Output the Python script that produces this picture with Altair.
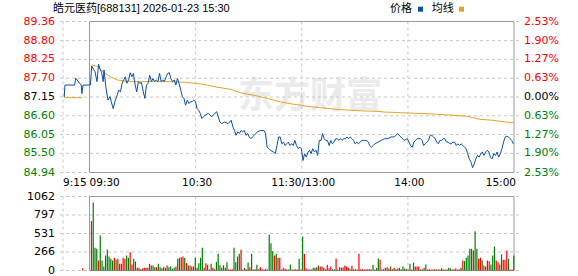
import altair as alt
import pandas as pd

# ---------------- data ----------------
price_ticks = [89.36, 88.80, 88.25, 87.70, 87.15, 86.60, 86.05, 85.50, 84.94]
pct_labels = ["2.53%", "1.90%", "1.27%", "0.63%", "0.00%", "0.63%", "1.27%", "1.90%", "2.53%"]
prev_close = 87.15
vol_ticks = [1062, 797, 531, 266, 0]
time_ticks = [0, 15, 75, 135, 195, 255]          # minutes from 9:15 (lunch collapsed)
time_labels = ["9:15", "09:30", "10:30", "11:30/13:00", "14:00", "15:00"]
grid_times = [0, 75, 135, 195]

title_text = "皓元医药[688131] 2026-01-23 15:30"
legend_labels = ["价格", "均线"]
watermark = "东方财富"

# price line: time index (minutes from 9:15) and price
price_t = [0.7, 1.1, 6.6, 7.2, 9.4, 10.3, 10.7, 11.3, 15.5,
           16.2, 17.3, 18.1, 19.2, 20.1, 21.0, 21.9, 22.7, 23.2, 24.2, 25.4, 26.6, 27.3, 28.4, 29.3,
           30.6, 31.5, 32.5, 33.4, 34.3, 35.2, 36.1, 37.1, 38.0, 38.9, 39.8, 40.8, 41.7, 42.6, 43.5,
           44.4, 45.4, 46.3, 47.2, 48.1, 49.0, 50.0, 50.9, 51.8, 52.7, 53.7, 54.6, 55.5, 56.4, 57.3,
           58.3, 59.2, 60.1, 61.0, 62.0, 62.9, 63.8, 64.7, 65.6, 66.6, 67.5, 68.4, 69.3, 70.3, 71.2,
           72.1, 73.0, 73.9, 74.9, 75.8, 76.7, 77.6, 78.5,
           80.4, 82.2, 84.1, 85.9, 86.9, 87.8, 88.7, 89.6, 91.5, 93.3, 95.1, 96.1, 97.0, 97.9, 98.8,
           99.8, 100.7, 101.6, 102.5, 103.4, 104.4, 105.3, 106.2, 107.1, 108.1, 109.0, 109.9, 111.7,
           113.6, 114.5, 115.4, 116.4, 117.3, 119.1, 120.0, 121.0, 121.9, 122.8, 123.7, 124.7, 125.6,
           126.5, 127.4, 128.3, 129.3, 130.2, 131.1, 132.0, 133.0, 133.9, 134.8,
           135.7, 136.6, 137.6, 138.5, 139.4, 140.3, 141.2, 142.2, 143.1, 144.0, 144.9, 145.9, 146.8,
           147.7, 148.6, 149.5, 150.5, 151.4, 152.3, 153.2, 154.2, 155.1, 156.0, 156.9, 157.8, 158.8,
           159.7, 160.6, 161.5, 162.4, 163.4, 164.3, 165.2, 166.1, 167.1, 168.0, 168.9, 169.8, 170.7,
           171.7, 172.6, 173.5, 174.4, 175.4, 176.3, 178.1,
           180.0, 181.8, 183.6, 185.5, 187.3, 189.2, 191.0, 192.9, 194.7, 196.5, 197.5, 198.4, 200.2,
           202.1, 203.0, 203.9, 204.8, 205.8, 206.7, 207.6, 208.5, 209.5, 210.4, 211.3, 212.2, 213.1,
           214.1, 215.0, 215.9, 216.8, 217.8, 218.7, 219.6, 220.5, 221.4, 222.4, 223.3, 224.2, 225.1,
           226.1, 227.0, 227.9, 228.8, 229.7, 230.7, 231.6, 232.5, 233.4, 234.4, 235.3, 236.2, 237.1,
           238.0, 239.0, 239.9, 240.8, 241.7, 242.6, 243.6, 244.5, 245.4, 246.3, 247.3, 248.2, 249.1,
           250.0, 251.0, 251.9, 252.8, 253.7, 254.6]
price_v = [87.15, 87.50, 87.50, 87.70, 87.55, 87.50, 87.25, 87.50, 87.50,
           88.06, 87.96, 87.89, 87.60, 88.11, 87.96, 87.86, 87.60, 87.94, 87.45, 87.06, 87.16, 87.01, 86.81, 87.01,
           87.20, 87.35, 87.30, 87.55, 87.65, 87.74, 87.55, 87.65, 87.86, 87.74, 87.84, 87.50, 87.30, 87.60, 87.55,
           87.57, 87.30, 87.11, 87.50, 87.55, 87.79, 87.60, 87.69, 87.60, 87.65, 87.60, 87.84, 87.60, 87.65, 87.60,
           87.74, 87.84, 87.86, 87.69, 87.60, 87.65, 87.50, 87.69, 87.55, 87.35, 87.16, 87.11, 86.91, 87.06, 86.96,
           87.01, 87.01, 87.06, 87.01, 86.81, 86.76, 86.67, 86.52,
           86.62, 86.67, 86.57, 86.67, 86.72, 86.57, 86.42, 86.37, 86.42, 86.37, 86.47, 86.27, 86.17, 86.03, 86.13,
           86.08, 86.17, 86.13, 86.17, 86.03, 86.08, 85.98, 85.93, 85.98, 86.03, 86.08, 86.13, 86.17,
           86.17, 86.08, 85.68, 85.64, 85.59, 85.54, 85.49, 85.73, 85.98, 85.98, 85.78, 85.83, 85.73,
           85.78, 85.83, 85.73, 85.78, 85.73, 85.88, 85.73, 85.64, 85.68, 85.64,
           85.29, 85.49, 85.39, 85.54, 85.59, 85.49, 85.64, 85.54, 85.59, 85.44, 85.88, 85.88, 86.08,
           85.93, 85.88, 85.88, 85.73, 85.88, 85.78, 85.83, 85.93, 85.93, 85.88, 85.93, 85.88, 85.93,
           85.93, 85.98, 85.93, 85.98, 85.93, 85.88, 85.78, 85.83, 85.78, 85.83, 85.88, 85.88, 85.88,
           85.88, 85.83, 85.73, 85.68, 85.73, 85.78, 85.83,
           85.88, 85.93, 85.93, 85.98, 85.98, 86.08, 85.98, 85.88, 85.93, 85.73, 85.68, 85.83, 85.93,
           85.93, 85.88, 85.73, 85.78, 85.83, 85.88, 86.03, 86.03, 85.98, 85.93, 85.83, 85.78, 85.88,
           85.88, 85.93, 85.93, 85.83, 85.83, 85.78, 85.78, 85.83, 85.83, 85.73, 85.78, 85.73, 85.78,
           85.73, 85.68, 85.64, 85.49, 85.34, 85.24, 85.08, 85.19, 85.34, 85.44, 85.39, 85.49, 85.54,
           85.44, 85.54, 85.59, 85.54, 85.39, 85.34, 85.49, 85.44, 85.54, 85.39, 85.49, 85.64, 85.83,
           85.98, 86.00, 85.98, 85.93, 85.88, 85.78]

# average line
avg_t = [16.2, 19.5, 23.2, 26.9, 30.6, 34.3, 41.7, 60.1, 69.3, 78.5, 85.9, 95.1, 100.7, 108.1,
         115.4, 122.8, 130.2, 134.8, 137.6, 144.9, 154.2, 163.4, 170.7, 178.1, 181.8, 191.0,
         200.2, 209.5, 218.7, 227.9, 231.6, 235.3, 242.6, 250.0, 254.6]
avg_v = [88.09, 88.04, 87.86, 87.74, 87.65, 87.62, 87.60, 87.60, 87.58, 87.53, 87.45, 87.37, 87.27, 87.20,
         87.11, 87.01, 86.94, 86.91, 86.88, 86.84, 86.79, 86.76, 86.74, 86.73, 86.71, 86.69,
         86.67, 86.65, 86.62, 86.59, 86.55, 86.50, 86.47, 86.42, 86.40]
pre_avg_t = [0.7, 10.7]
pre_avg_v = [87.13, 87.13]

# volume (lots), one per minute 9:30..11:30 (121), 13:01..15:00 (120)
vol_v = [708, 976, 325, 311, 143, 502, 143, 57, 215, 301, 201, 167, 143, 182, 153, 167, 96, 96, 182, 167,
         215, 182, 263, 86, 167, 129, 38, 38, 19, 29, 38, 38, 38, 96, 72, 72, 48, 48, 96, 48,
         33, 48, 38, 72, 48, 57, 24, 38, 57, 167, 182, 191, 201, 182, 105, 72, 72, 57, 57, 182,
         38, 105, 182, 325, 38, 105, 81, 14, 96, 38, 19, 124, 239, 76, 38, 76, 38, 120, 19, 14,
         19, 325, 120, 201, 239, 296, 14, 38, 19, 115, 48, 239, 14, 19, 81, 19, 48, 14, 14, 24,
         14, 517, 392, 277, 215, 239, 182, 182, 14, 38, 24, 19, 14, 86, 14, 14, 19, 14, 167, 14, 488,
         239, 29, 14, 14, 14, 38, 38, 48, 72, 57, 57, 38, 19, 81, 33, 57, 19, 19, 172, 14,
         48, 38, 48, 72, 57, 38, 14, 67, 19, 19, 14, 239, 19, 19, 14, 19, 19, 19, 14, 81,
         14, 38, 172, 153, 14, 19, 38, 48, 29, 57, 19, 38, 19, 29, 38, 19, 57, 29, 19, 14,
         96, 14, 115, 57, 57, 57, 14, 19, 38, 86, 14, 19, 14, 14, 19, 14, 19, 14, 33, 14,
         14, 14, 38, 29, 14, 19, 29, 14, 19, 38, 143, 134, 182, 215, 311, 311, 287, 565, 311, 167,
         182, 143, 72, 57, 143, 134, 86, 215, 344, 143, 120, 86, 230, 153, 153, 287, 167, 14, 14, 215]
# bar colour per minute: r = up (red), g = down (green)
vol_c = list("rgggrggggggggrgrrrrr" "ggrrggrrgrrrgrrggrgg" "rggrggggrggrrgrgrrrg"
             "ggggrrrggrrggggrggrr" "rggrgrrgrgrgrggrrrrr" "ggggrgrrgrrrg" "grrrggrg"
             "rrrrrggrgrrrgrrrggrg" "rgrrrrgrgrrrrrrrgrrg" "rggrgrgrrgrrggrgggrg"
             "grgrrrggrgrrrgrgrrgr" "rgggrrrgrgrgggggrggr" "rgrrrrgggrrggrrrgrrg")

pre_vol_t = [11.2]
pre_vol_v = [33]

# ---------------- layout ----------------
W, H = 461, 249      # plot area (9:15 .. 15:00, price top .. volume bottom)
PH = 151             # price pane height
VT = 175             # volume pane top
pmax, pmin = price_ticks[0], price_ticks[-1]
p_lo = pmax - (pmax - pmin) * H / PH
v_hi = vol_ticks[0] * H / (H - VT)

BLUE = "#0c4fa2"
GOLD = "#e2a526"
GRID = "#c8c8c8"
BORDER = "#9a9a9a"
NUM_FONT = "DejaVu Sans"
CJK = "Liberation Sans, Noto Sans CJK SC"

xs = alt.Scale(domain=[0, 255], nice=False, zero=False)
ps = alt.Scale(domain=[p_lo, pmax], nice=False, zero=False)
vs = alt.Scale(domain=[0, v_hi], nice=False, zero=False)
dir_scale = alt.Scale(domain=["up", "flat", "down"], range=["#ff0000", "#000000", "#008000"])


def direction(p):
    if abs(p - prev_close) < 1e-9:
        return "flat"
    return "up" if p > prev_close else "down"


X = lambda f: alt.X(f, scale=xs, axis=None)
PY = lambda f: alt.Y(f, scale=ps, axis=None)
VY = lambda f: alt.Y(f, scale=vs, axis=None)
COL = alt.Color("dir:N", scale=dir_scale, legend=None)

ticks_df = pd.DataFrame({"p": price_ticks, "pct": pct_labels})
ticks_df["lbl"] = [f"{p:.2f}" for p in price_ticks]
ticks_df["dir"] = [direction(p) for p in price_ticks]

vol_c = (vol_c + ["g"] * len(vol_v))[:len(vol_v)]
vol_df = pd.DataFrame({
    "t": [16.1 + k * 0.995 for k in range(len(vol_v))] + pre_vol_t,
    "v": vol_v + pre_vol_v,
    "dir": ["up" if c == "r" else "down" for c in vol_c] + ["up"],
})

price_df = pd.DataFrame({"t": price_t, "p": price_v})
avg_df = pd.DataFrame({"t": pre_avg_t + avg_t, "p": pre_avg_v + avg_v,
                       "seg": ["pre"] * len(pre_avg_t) + ["main"] * len(avg_t)})
vgrid_df = pd.DataFrame({"t": grid_times})
border_p = pd.DataFrame({"a": [15], "b": [255], "y1": [pmax], "y2": [pmin]})
border_v = pd.DataFrame({"a": [15], "b": [255], "y1": [vol_ticks[0]], "y2": [0]})
vt_df = pd.DataFrame({"v": vol_ticks, "lbl": [str(v) for v in vol_ticks]})

n = len(time_ticks)
time_df = pd.DataFrame({"t": time_ticks, "lbl": time_labels,
                        "al": ["left", "left"] + ["center"] * (n - 3) + ["right"]})

# ---------------- price pane ----------------
wm = alt.Chart(pd.DataFrame({"s": [watermark]})).mark_text(
    font="Noto Sans CJK SC", fontSize=36, fontWeight="bold", color="#ebebeb",
    align="center", baseline="middle").encode(x=alt.value(252), y=alt.value(75), text="s:N")

hgrid = alt.Chart(ticks_df).mark_rule(color=GRID, strokeDash=[3, 3], strokeWidth=1).encode(y=PY("p:Q"))
vgrid_p = alt.Chart(vgrid_df).mark_rule(color=GRID, strokeDash=[3, 3], strokeWidth=1).encode(
    x=X("t:Q"), y=alt.value(0), y2=alt.value(PH))
box_p = alt.Chart(border_p).mark_rect(fillOpacity=0, stroke=BORDER, strokeWidth=1).encode(
    x=X("a:Q"), x2="b:Q", y=PY("y1:Q"), y2="y2:Q")
line_p = alt.Chart(price_df).mark_line(color=BLUE, strokeWidth=1).encode(x=X("t:Q"), y=PY("p:Q"))
line_a = alt.Chart(avg_df).mark_line(color=GOLD, strokeWidth=1).encode(
    x=X("t:Q"), y=PY("p:Q"), detail="seg:N")
lbl_l = alt.Chart(ticks_df).mark_text(align="right", baseline="middle", font=NUM_FONT, fontSize=11).encode(
    x=alt.value(-3), y=PY("p:Q"), text="lbl:N", color=COL)
lbl_r = alt.Chart(ticks_df).mark_text(align="left", baseline="middle", font=NUM_FONT, fontSize=11).encode(
    x=alt.value(W + 5), y=PY("p:Q"), text="pct:N", color=COL)

tl = []
for al, dx in [("left", 0), ("center", 1.5), ("right", 2)]:
    tl.append(alt.Chart(time_df).transform_filter(alt.datum.al == al).mark_text(
        align=al, baseline="middle", font=NUM_FONT, fontSize=10.5, color="#000000", dx=dx).encode(
        x=X("t:Q"), y=alt.value(PH + 10), text="lbl:N"))

title = alt.Chart(pd.DataFrame({"s": [title_text]})).mark_text(
    align="left", baseline="middle", font=CJK, fontSize=11, color="#000000").encode(
    x=alt.value(-5), y=alt.value(-12.5), text="s:N")
leg1 = alt.Chart(pd.DataFrame({"s": [legend_labels[0]]})).mark_text(
    align="left", baseline="middle", font=CJK, fontSize=11, color="#000000").encode(
    x=alt.value(332), y=alt.value(-12.5), text="s:N")
leg2 = alt.Chart(pd.DataFrame({"s": [legend_labels[1]]})).mark_text(
    align="left", baseline="middle", font=CJK, fontSize=11, color="#000000").encode(
    x=alt.value(373.7), y=alt.value(-12.5), text="s:N")
sq_blue = alt.Chart(pd.DataFrame({"s": [legend_labels[0]]})).mark_square(size=25, color=BLUE, opacity=1).encode(
    x=alt.value(362.5), y=alt.value(-12.3))
sq_gold = alt.Chart(pd.DataFrame({"s": [legend_labels[1]]})).mark_square(size=25, color=GOLD, opacity=1).encode(
    x=alt.value(403.5), y=alt.value(-12.3))

price_group = alt.layer(wm, hgrid, vgrid_p, box_p, line_a, line_p, lbl_l, lbl_r, *tl, title,
                        leg1, leg2, sq_blue, sq_gold)

# ---------------- volume pane ----------------
hgrid_v = alt.Chart(vt_df).mark_rule(color=GRID, strokeDash=[3, 3], strokeWidth=1).encode(y=VY("v:Q"))
vgrid_v = alt.Chart(vgrid_df).mark_rule(color=GRID, strokeDash=[3, 3], strokeWidth=1).encode(
    x=X("t:Q"), y=alt.value(VT), y2=alt.value(H))
box_v = alt.Chart(border_v).mark_rect(fillOpacity=0, stroke=BORDER, strokeWidth=1).encode(
    x=X("a:Q"), x2="b:Q", y=VY("y1:Q"), y2="y2:Q")
bars = alt.Chart(vol_df).mark_bar(size=1.2).encode(x=X("t:Q"), y=VY("v:Q"), color=COL)
lbl_v = alt.Chart(vt_df).mark_text(align="right", baseline="middle", font=NUM_FONT, fontSize=11,
                                   color="#000000").encode(x=alt.value(-3), y=VY("v:Q"), text="lbl:N")

vol_group = alt.layer(hgrid_v, vgrid_v, box_v, bars, lbl_v)

chart = alt.layer(price_group, vol_group).resolve_scale(y="independent").properties(
    width=W, height=H,
    padding={"left": 58, "top": 21.5, "right": 59, "bottom": 5.5},
    autosize=alt.AutoSizeParams(type="none"),
    background="white",
).configure_view(stroke=None)

chart.save("out.html", embed_options={"renderer": "svg", "actions": False})
